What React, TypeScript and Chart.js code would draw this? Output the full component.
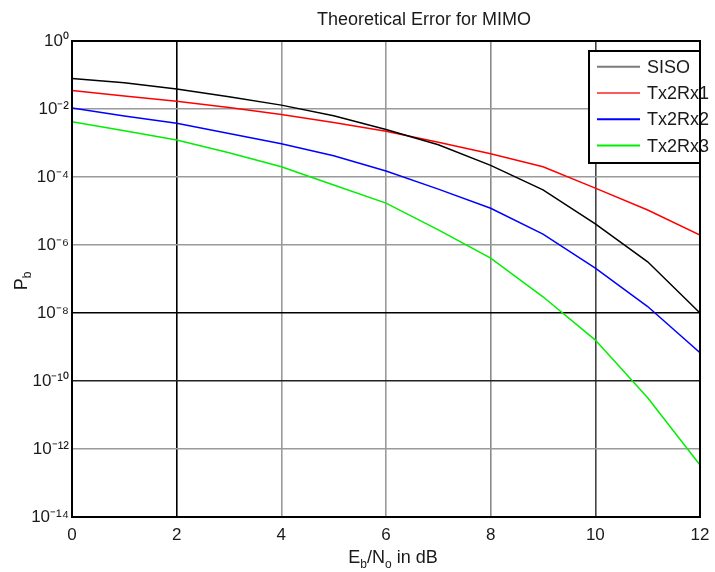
import React, { useEffect, useRef } from "react";
import { Chart, registerables } from "chart.js";

Chart.register(...registerables);

// ---- data ----
const snrDb = [0, 1, 2, 3, 4, 5, 6, 7, 8, 9, 10, 11, 12];
const sisoBer = [7.9e-2, 5.9e-2, 3.9e-2, 2.3e-2, 1.3e-2, 6.3e-3, 2.5e-3, 8.9e-4, 2.2e-4, 4.2e-5, 4.2e-6, 3.2e-7, 1.0e-8];
const tx2rx1Ber = [3.5e-2, 2.4e-2, 1.7e-2, 1.1e-2, 6.9e-3, 4.0e-3, 2.2e-3, 1.05e-3, 4.8e-4, 2.0e-4, 4.7e-5, 1.07e-5, 1.95e-6];
const tx2rx2Ber = [1.07e-2, 6.2e-3, 3.8e-3, 1.9e-3, 9.5e-4, 4.2e-4, 1.5e-4, 4.4e-5, 1.2e-5, 2.1e-6, 2.1e-7, 1.55e-8, 6.8e-10];
const tx2rx3Ber = [4.2e-3, 2.3e-3, 1.23e-3, 5.2e-4, 2.0e-4, 5.8e-5, 1.7e-5, 2.8e-6, 4.1e-7, 3.0e-8, 1.6e-9, 3.2e-11, 3.4e-13];

const seriesNames = ["SISO", "Tx2Rx1", "Tx2Rx2", "Tx2Rx3"];
const seriesValues = [sisoBer, tx2rx1Ber, tx2rx2Ber, tx2rx3Ber];
const seriesColors = ["#000000", "#ff0000", "#0000ff", "#00ee00"];
const legendSampleColors = ["#7a7a7a", "#ff5a5a", "#0000ff", "#00ee00"];

const xTickValues = [0, 2, 4, 6, 8, 10, 12];
const yTickExponents = [0, -2, -4, -6, -8, -10, -12, -14];

const titleText = "Theoretical Error for MIMO";

const FONT = "'Liberation Sans', Arial, Helvetica, sans-serif";

const xGridColors: Record<number, string> = { 0: "#000", 2: "#000", 4: "#9a9a9a", 6: "#9a9a9a", 8: "#8a8a8a", 10: "#444", 12: "#000" };
const yGridColors: Record<number, string> = { 0: "#000", [-2]: "#9a9a9a", [-4]: "#9a9a9a", [-6]: "#9a9a9a", [-8]: "#000", [-10]: "#222", [-12]: "#9a9a9a", [-14]: "#000" };

const SUP: Record<string, string> = { "0": "⁰", "1": "¹", "2": "²", "3": "³", "4": "⁴", "5": "⁵", "6": "⁶", "7": "⁷", "8": "⁸", "9": "⁹", "-": "⁻" };
const supStr = (n: number) => String(n).split("").map((c) => SUP[c] || c).join("");

type Part = [string, boolean];

function drawSubText(ctx: CanvasRenderingContext2D, parts: Part[], cx: number, baseline: number, size: number, subSize: number, subDrop: number) {
  const widths = parts.map(([t, sub]) => {
    ctx.font = `${sub ? subSize : size}px ${FONT}`;
    return ctx.measureText(t).width;
  });
  const total = widths.reduce((a, b) => a + b, 0);
  let x = cx - total / 2;
  ctx.textAlign = "left";
  ctx.textBaseline = "alphabetic";
  parts.forEach(([t, sub], i) => {
    ctx.font = `${sub ? subSize : size}px ${FONT}`;
    ctx.fillText(t, x, baseline + (sub ? subDrop : 0));
    x += widths[i];
  });
}

const overlayPlugin = {
  id: "overlay",
  afterDraw(chart: any) {
    const { ctx, chartArea: a } = chart;
    ctx.save();
    // plot frame
    ctx.strokeStyle = "#000";
    ctx.lineWidth = 2;
    ctx.strokeRect(a.left, a.top, a.right - a.left, a.bottom - a.top);

    // title
    ctx.fillStyle = "#1a1a1a";
    ctx.font = `18px ${FONT}`;
    ctx.textAlign = "center";
    ctx.textBaseline = "alphabetic";
    ctx.fillText(titleText, 424, 25);

    // x axis label
    drawSubText(ctx, [["E", false], ["b", true], ["/N", false], ["o", true], [" in dB", false]], 393, 563, 18, 12, 5);

    // y axis label (rotated)
    ctx.save();
    ctx.translate(27, 281);
    ctx.rotate(-Math.PI / 2);
    drawSubText(ctx, [["P", false], ["b", true]], 0, 0, 18, 12, 4);
    ctx.restore();

    // legend
    const lx = 589, ly = 51, lw = 111, lh = 112;
    ctx.fillStyle = "#fff";
    ctx.fillRect(lx, ly, lw, lh);
    seriesNames.forEach((name, i) => {
      const ry = ly + 15.7 + i * 26.3;
      ctx.strokeStyle = legendSampleColors[i];
      ctx.lineWidth = 2;
      ctx.beginPath();
      ctx.moveTo(lx + 8, ry);
      ctx.lineTo(lx + 51, ry);
      ctx.stroke();
      ctx.fillStyle = "#1a1a1a";
      ctx.font = `18px ${FONT}`;
      ctx.textAlign = "left";
      ctx.textBaseline = "middle";
      ctx.fillText(name, lx + 58, ry + 1);
    });
    ctx.strokeStyle = "#000";
    ctx.lineWidth = 2;
    ctx.strokeRect(lx, ly, lw, lh);
    ctx.restore();
  },
};

export default function App() {
  const canvasRef = useRef<HTMLCanvasElement | null>(null);

  useEffect(() => {
    if (!canvasRef.current) return;
    const chart = new Chart(canvasRef.current, {
      type: "line",
      data: {
        datasets: seriesNames.map((name, i) => ({
          label: name,
          data: snrDb.map((x, j) => ({ x, y: seriesValues[i][j] })),
          borderColor: seriesColors[i],
          backgroundColor: seriesColors[i],
          borderWidth: 1.5,
          pointRadius: 0,
          tension: 0,
          fill: false,
        })),
      },
      options: {
        animation: false,
        responsive: true,
        maintainAspectRatio: false,
        layout: { padding: { top: 41, right: 15, left: 0, bottom: 0 } },
        plugins: {
          legend: { display: false },
          title: { display: false },
          tooltip: { enabled: false },
        },
        scales: {
          x: {
            type: "linear",
            min: 0,
            max: 12,
            afterBuildTicks: (s: any) => {
              s.ticks = xTickValues.map((v) => ({ value: v }));
            },
            afterFit: (s: any) => {
              s.height = 55;
              s.paddingLeft = 0;
              s.paddingRight = 0;
            },
            ticks: {
              color: "#1a1a1a",
              font: { family: FONT, size: 17 },
              padding: 8,
              maxRotation: 0,
              callback: (v: any) => String(v),
            },
            grid: {
              color: (c: any) => xGridColors[c.tick ? c.tick.value : 0] || "#999",
              lineWidth: 1.6,
              drawTicks: false,
            },
            border: { display: false },
          },
          y: {
            type: "logarithmic",
            min: 1e-14,
            max: 1,
            afterBuildTicks: (s: any) => {
              s.ticks = yTickExponents.map((e) => ({ value: Math.pow(10, e) }));
            },
            afterFit: (s: any) => {
              s.width = 72;
              s.paddingTop = 0;
              s.paddingBottom = 0;
            },
            ticks: {
              color: "#1a1a1a",
              font: { family: FONT, size: 17 },
              padding: 3,
              callback: (v: any) => "10" + supStr(Math.round(Math.log10(Number(v)))),
            },
            grid: {
              color: (c: any) => {
                const e = c.tick ? Math.round(Math.log10(c.tick.value)) : 0;
                return yGridColors[e] || "#999";
              },
              lineWidth: 1.6,
              drawTicks: false,
            },
            border: { display: false },
          },
        },
      } as any,
      plugins: [overlayPlugin],
    });
    return () => chart.destroy();
  }, []);

  return (
    <div style={{ position: "fixed", left: 0, top: 0, width: 715, height: 572, background: "#fff" }}>
      <canvas ref={canvasRef} />
    </div>
  );
}
